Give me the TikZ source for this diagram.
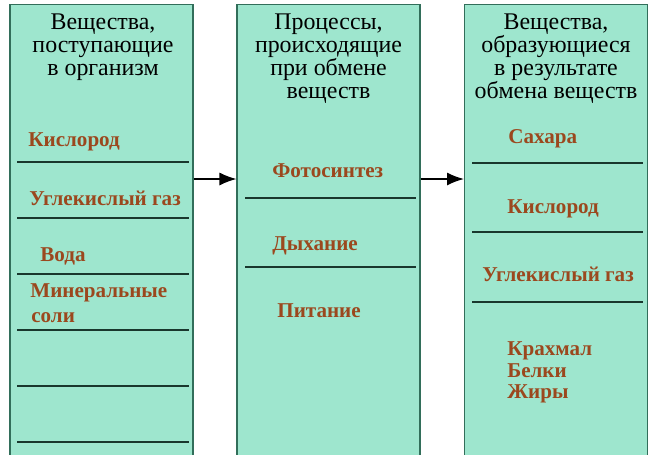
\documentclass[tikz,border=0pt]{standalone}
\usepackage{fontspec}
\setmainfont{Liberation Serif}
\usetikzlibrary{arrows.meta}
\definecolor{mint}{RGB}{158,230,206}
\definecolor{edgegreen}{RGB}{50,110,90}
\definecolor{rust}{RGB}{155,72,30}
\definecolor{rulegreen}{RGB}{25,55,45}

\begin{document}
\begin{tikzpicture}[x=0.02cm, y=-0.02cm,
    column/.style={draw=edgegreen, fill=mint, line width=0.6pt,
      minimum width=3.66cm, minimum height=9.2cm, inner sep=0pt},
    head/.style={align=center, font=\fontsize{13.6}{13.1}\selectfont,
      inner sep=0pt, anchor=north},
    item/.style={text=rust, font=\fontsize{12}{14}\selectfont\bfseries,
      anchor=base west, inner sep=0pt},
    sep/.style={draw=rulegreen, line width=1.1pt},
    arr/.style={-{Latex[length=3.4mm,width=2.6mm]}, line width=0.9pt}]
  \useasboundingbox (0,0) rectangle (658,454);

  % the three columns
  \node[column] (c1) at (101.5,234) {};
  \node[column] (c2) at (328.5,234) {};
  \node[column] (c3) at (556,234)   {};

  % headers
  \node[head] (h1) at (103,13) {Вещества,\\поступающие\\в организм};
  \node[head] (h2) at (328.5,13) {Процессы,\\происходящие\\при обмене\\веществ};
  \node[head] (h3) at (556,13)   {Вещества,\\образующиеся\\в результате\\обмена веществ};

  % ruled lines
  \foreach \y in {162,218,274,330,386,442}
    \draw[sep] (17,\y) -- (189,\y);
  \foreach \y in {198,267}
    \draw[sep] (245,\y) -- (416,\y);
  \foreach \y in {163,232,302}
    \draw[sep] (472,\y) -- (643,\y);

  % first column
  \node[item] (oxy1) at (28,146)  {Кислород};
  \node[item] (co1)  at (29,205)  {Углекислый газ};
  \node[item] (wat)  at (40,261)  {Вода};
  \node[item] (min)  at (30,297)  {Минеральные};
  \node[item] (salt) at (31,322)  {соли};

  % second column
  \node[item] (photo) at (272,177) {Фотосинтез};
  \node[item] (resp)  at (272,250) {Дыхание};
  \node[item] (food)  at (277,317) {Питание};

  % third column
  \node[item] (sug)  at (508,143) {Сахара};
  \node[item] (oxy3) at (507,213) {Кислород};
  \node[item] (co3)  at (482,281) {Углекислый газ};
  \node[item] (star) at (507,355) {Крахмал};
  \node[item] (prot) at (507,377) {Белки};
  \node[item] (fat)  at (507,398) {Жиры};

  % arrows
  \coordinate (lvl) at (0,179);
  \draw[arr] (c1.east |- lvl) -- (c2.west |- lvl);
  \draw[arr] (c2.east |- lvl) -- (c3.west |- lvl);
\end{tikzpicture}
\end{document}
